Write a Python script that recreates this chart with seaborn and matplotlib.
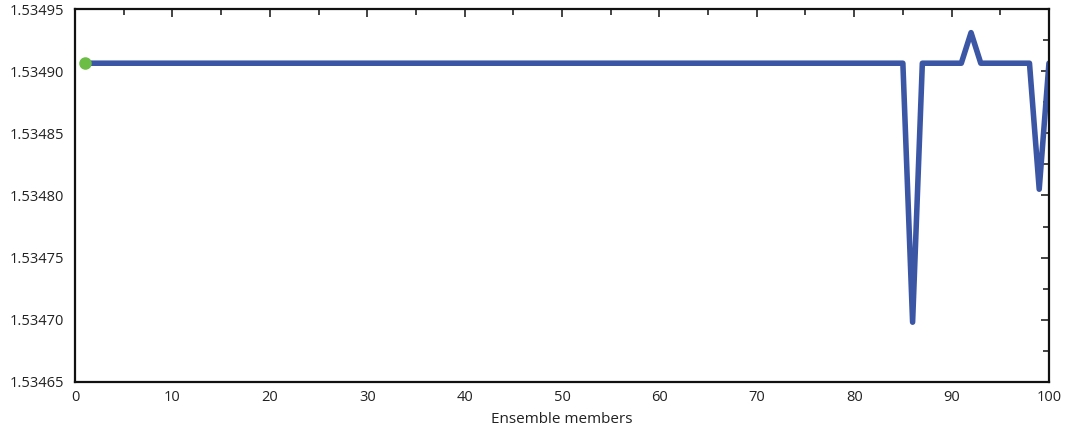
import numpy as np
import pandas as pd
import matplotlib
matplotlib.use("Agg")
import matplotlib.pyplot as plt
from matplotlib.ticker import MultipleLocator, FormatStrFormatter
import seaborn as sns

# Ensemble member indices and the value each member produced
members = list(range(1, 101))
base_value = 1.5349064
values = [base_value] * 100
values[86 - 1] = 1.534698
values[92 - 1] = 1.534931
values[99 - 1] = 1.534805

x_ticks = [0, 10, 20, 30, 40, 50, 60, 70, 80, 90, 100]
y_ticks = [1.53465, 1.53470, 1.53475, 1.53480, 1.53485, 1.53490, 1.53495]

df = pd.DataFrame({"member": members, "value": values})

sns.set_style("white")
plt.rcParams["font.family"] = ["Open Sans", "DejaVu Sans"]

fig = plt.figure(figsize=(10.72, 4.30), dpi=100)
ax = fig.add_axes([0.070, 0.112, 0.9085, 0.867])

sns.lineplot(data=df, x="member", y="value", ax=ax, color="#3b56a5",
             linewidth=4.0, solid_joinstyle="round", solid_capstyle="round")
ax.plot([members[0]], [values[0]], "o", color="#6cbd45", markersize=8,
        zorder=5, clip_on=False)

ax.set_xlim(0, 100)
ax.set_ylim(1.53465, 1.53495)
ax.set_xticks(x_ticks)
ax.set_yticks(y_ticks)
ax.xaxis.set_minor_locator(MultipleLocator(5))
ax.yaxis.set_minor_locator(MultipleLocator(0.000025))
ax.yaxis.set_major_formatter(FormatStrFormatter("%.5f"))

ax.tick_params(which="both", direction="in", top=True, right=True,
               color="#111111", width=1.1, labelsize=10.5,
               labelcolor="#222222")
ax.tick_params(which="major", length=6)
ax.tick_params(which="minor", length=4)
ax.tick_params(axis="y", which="major", pad=8)
ax.tick_params(axis="x", which="major", pad=6)

for side in ax.spines.values():
    side.set_color("#111111")
    side.set_linewidth(1.6)

ax.set_xlabel("Ensemble members", fontsize=11, color="#222222", labelpad=5)
ax.set_ylabel("")

fig.savefig("out.png", dpi=100)
